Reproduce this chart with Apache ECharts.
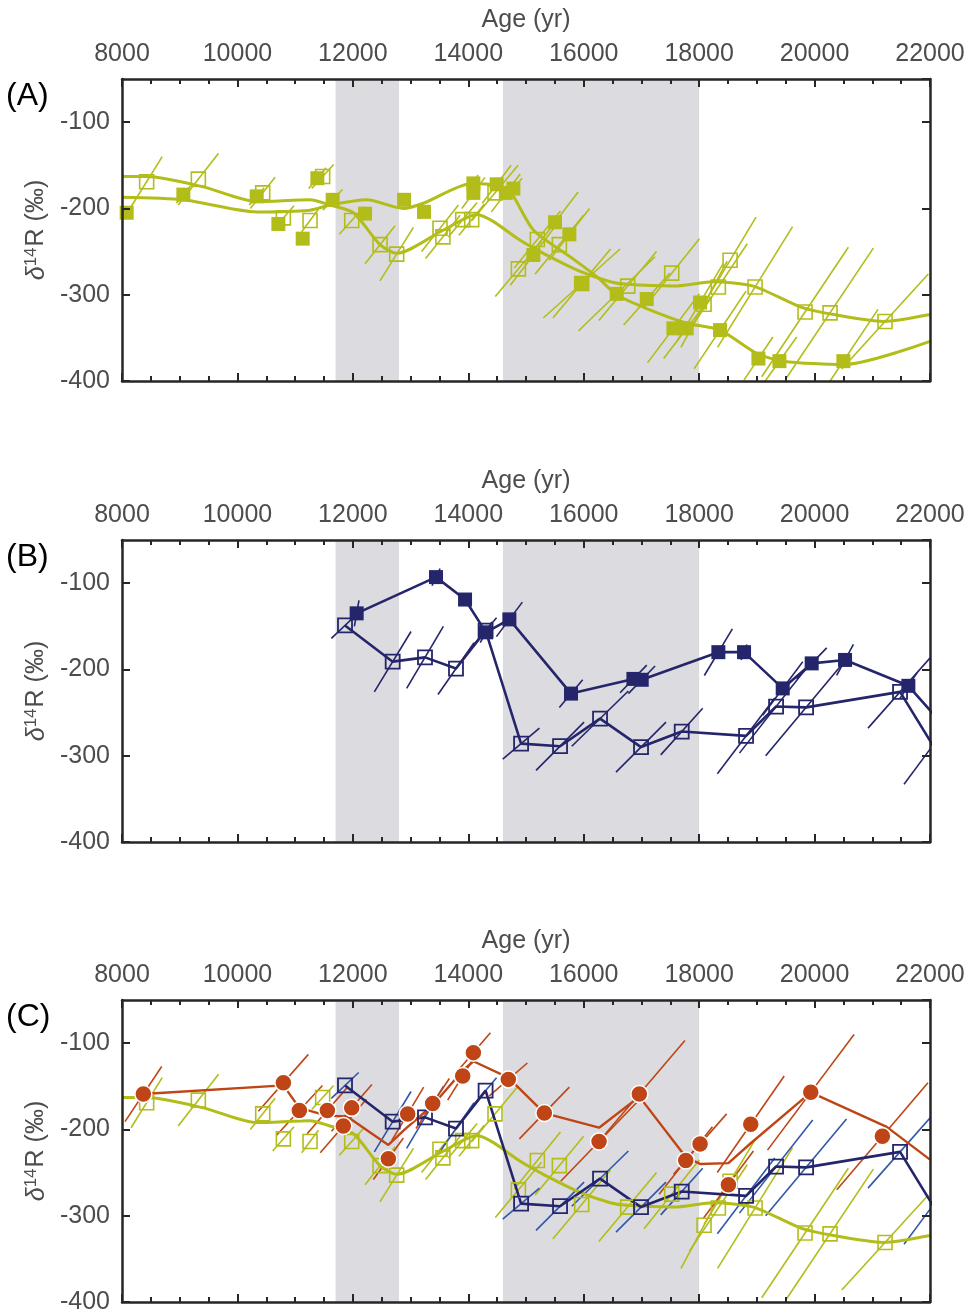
<!DOCTYPE html>
<html>
<head>
<meta charset="utf-8">
<script src="https://cdn.jsdelivr.net/npm/echarts@6/dist/echarts.min.js"></script>
<style>
  html, body { margin: 0; padding: 0; background: #fff; }
  #chart { width: 969px; height: 1315px; }
</style>
</head>
<body>
<div id="chart"></div>
<script>
// Shaded age intervals (yr)
const shadedIntervals = [[11700, 12800], [14600, 18000]];

// Point records: [age (yr), δ14R (‰), age half-error (yr), δ14R half-error along the error line (‰)]
const greenFilled = [
  [8081, -205, 60, 5], [9063, -184, 120, 10], [10334, -186, 130, 10], [10709, -218, 80, 6],
  [11131, -235, 50, 5], [11385, -165, 150, 12], [11650, -190, 170, 12], [12211, -206, 60, 5],
  [12887, -190, 60, 5], [13233, -204, 80, 8], [14088, -171, 80, 10], [14088, -182, 200, 18],
  [14492, -172, 250, 22], [14650, -182, 250, 22], [14781, -177, 150, 12], [15128, -254, 400, 35],
  [15503, -216, 400, 35], [15751, -230, 350, 30], [15965, -287, 665, 40], [16572, -299, 665, 43],
  [17092, -305, 400, 30], [17554, -339, 450, 40], [17785, -339, 400, 35], [18016, -309, 400, 45],
  [18362, -341, 450, 45], [19027, -374, 250, 25], [19391, -377, 300, 28], [20499, -377, 600, 60]
];
const greenOpen = [
  [8427, -169, 270, 29], [9323, -166, 350, 30], [10438, -182, 215, 18], [10796, -211, 185, 14],
  [11258, -214, 145, 13], [11477, -163, 190, 14], [11980, -214, 215, 16], [12471, -242, 260, 22],
  [12759, -253, 290, 31], [13510, -223, 320, 27], [13560, -233, 300, 25], [13903, -213, 250, 20],
  [14059, -213, 220, 18], [14463, -182, 400, 32], [14868, -270, 400, 32], [15197, -236, 400, 33],
  [15578, -242, 420, 34], [15965, -287, 500, 40], [16762, -290, 500, 40], [17525, -275, 480, 40],
  [18085, -311, 400, 50], [18333, -291, 500, 50], [18536, -260, 450, 50], [18969, -291, 650, 70],
  [19835, -320, 750, 75], [20268, -321, 750, 75], [21221, -331, 750, 55]
];
// Smoothed records: [age (yr), δ14R (‰)]
const greenFilledCurve = [
  [8000, -187], [9063, -190], [10334, -204], [11258, -202], [11604, -196], [12240, -190],
  [12875, -200], [13221, -194], [14059, -171], [14492, -173], [14723, -180], [15128, -225],
  [15763, -256], [16225, -279], [16572, -300], [17092, -316], [17785, -333], [18362, -341],
  [18998, -368], [19460, -377], [20499, -381], [22000, -354]
];
const greenOpenCurve = [
  [8000, -163], [8430, -163], [9410, -175], [10330, -192], [11260, -190], [11600, -196],
  [12010, -205], [12470, -242], [12760, -252], [13570, -225], [14150, -207], [14430, -215],
  [14900, -237], [15300, -252], [15940, -273], [16460, -285], [16750, -288], [17550, -290],
  [18250, -285], [18940, -290], [19750, -314], [20330, -323], [21190, -331], [22000, -323]
];
const navyFilled = [
  [12066, -135, 40, 15], [13441, -93, 70, 10], [13944, -119, 30, 5], [14307, -157, 100, 12],
  [14712, -142, 225, 20], [15780, -228, 202, 16], [16861, -211, 231, 16], [17005, -212, 231, 16],
  [18333, -180, 243, 27], [18778, -180, 50, 9], [19448, -222, 347, 31], [19950, -193, 260, 18],
  [20528, -189, 145, 18], [21625, -219, 150, 15], [22300, -270, 150, 15]
];
const navyOpen = [
  [11864, -149, 237, 15], [12690, -191, 318, 35], [13250, -186, 318, 36], [13787, -199, 312, 30],
  [14300, -155, 190, 15], [14915, -286, 318, 18], [15590, -289, 416, 28], [16283, -257, 490, 32],
  [16993, -290, 433, 29], [17698, -272, 364, 27], [18813, -277, 497, 44], [19333, -243, 635, 54],
  [19853, -244, 700, 56], [21481, -226, 555, 42], [22050, -288, 500, 45]
];
const redPoints = [
  [8370, -159, 318, 32], [10796, -146, 433, 33], [11073, -178, 400, 29], [11558, -178, 350, 27],
  [11835, -196, 400, 31], [11980, -175, 350, 27], [12615, -234, 260, 24], [12950, -182, 277, 31],
  [13383, -170, 289, 29], [13903, -138, 260, 28], [14088, -111, 295, 23], [14694, -142, 330, 19],
  [15318, -181, 433, 30], [16266, -214, 664, 46], [16964, -159, 790, 62], [17768, -236, 462, 39],
  [18016, -217, 460, 35], [18507, -264, 433, 39], [18894, -194, 580, 56], [19934, -157, 750, 67],
  [21175, -208, 790, 62]
];
const redCurve = [
  [8370, -159], [10796, -149], [11073, -175], [11546, -184], [11900, -185], [12615, -218],
  [12900, -200], [13383, -172], [13903, -132], [14088, -121], [14694, -140], [15318, -181],
  [16266, -198], [16964, -162], [17768, -232], [18016, -240], [18507, -239], [18894, -216],
  [19934, -157], [21250, -197], [22000, -235]
];
const panelLabels = ['(A)', '(B)', '(C)'];
const ageRange = [8000, 22000];
const valueRange = [-400, -50];

const FONT = '"Liberation Sans", Arial, Helvetica, sans-serif';
const AXIS = '#262626';
const TEXT = '#4d4d4d';
const GREEN = '#b2bd1a';
const NAVY = '#24256a';
const BLUE = '#3157a8';
const RED = '#bf4516';
const SHADE = '#dcdbdf';

const gridTops = [79, 540, 1000];
const grids = gridTops.map(t => ({ left: 122, top: t, width: 808, height: 302 }));

const xAxes = [];
const yAxes = [];
gridTops.forEach((t, gi) => {
  const xCommon = {
    gridIndex: gi, type: 'value', min: ageRange[0], max: ageRange[1], interval: 2000,
    splitLine: { show: false },
    axisLine: { show: true, onZero: false, lineStyle: { color: AXIS, width: 2.5 } },
    axisTick: { show: true, inside: true, length: 8, lineStyle: { color: AXIS, width: 2 } },
    minorTick: { show: true, splitNumber: 4, length: 5, lineStyle: { color: AXIS, width: 2 } },
    z: 10
  };
  xAxes.push(Object.assign({}, xCommon, {
    position: 'top', name: 'Age (yr)', nameLocation: 'middle', nameGap: 46,
    nameTextStyle: { fontSize: 25, color: TEXT, fontFamily: FONT },
    axisLabel: { show: true, margin: 12, fontSize: 25, color: TEXT, fontFamily: FONT,
      formatter: v => String(v) }
  }));
  xAxes.push(Object.assign({}, xCommon, { position: 'bottom', axisLabel: { show: false } }));

  const yCommon = {
    gridIndex: gi, type: 'value', min: valueRange[0], max: valueRange[1], interval: 100,
    splitLine: { show: false },
    axisLine: { show: true, onZero: false, lineStyle: { color: AXIS, width: 2.5 } },
    axisTick: { show: true, inside: true, length: 8, lineStyle: { color: AXIS, width: 2 } },
    z: 10
  };
  yAxes.push(Object.assign({}, yCommon, {
    position: 'left',
    name: '{d|δ}{s|14}{r|R (‰)}', nameLocation: 'middle', nameRotate: 90, nameGap: 66,
    nameTextStyle: {
      color: TEXT, fontFamily: FONT, fontSize: 25,
      rich: {
        d: { fontSize: 25, fontStyle: 'italic', color: TEXT, fontFamily: FONT },
        s: { fontSize: 17, color: TEXT, fontFamily: FONT, verticalAlign: 'top', padding: [0, 1, 10, 0] },
        r: { fontSize: 25, color: TEXT, fontFamily: FONT }
      }
    },
    axisLabel: {
      show: true, margin: 12, fontSize: 25, color: TEXT, fontFamily: FONT, showMaxLabel: false,
      formatter: v => (v > -100 ? '' : String(v))
    }
  }));
  yAxes.push(Object.assign({}, yCommon, { position: 'right', axisLabel: { show: false } }));
});

function clipRect(cs) {
  return { type: 'rect', shape: { x: cs.x, y: cs.y, width: cs.width, height: cs.height } };
}

function shadeSeries(gi) {
  return {
    type: 'custom', xAxisIndex: 2 * gi, yAxisIndex: 2 * gi, z: 1, silent: true,
    data: shadedIntervals, encode: { x: [0, 1] },
    renderItem(params, api) {
      const cs = params.coordSys;
      const x1 = api.coord([api.value(0), valueRange[0]])[0];
      const x2 = api.coord([api.value(1), valueRange[0]])[0];
      return { type: 'rect', shape: { x: x1, y: cs.y, width: x2 - x1, height: cs.height }, style: { fill: SHADE } };
    }
  };
}

function errorSeries(gi, rows, color, width) {
  return {
    type: 'custom', xAxisIndex: 2 * gi, yAxisIndex: 2 * gi, z: 2, silent: true,
    data: rows, encode: { x: 0, y: 1 },
    renderItem(params, api) {
      const x = api.value(0), y = api.value(1), ex = api.value(2), ey = api.value(3);
      const p1 = api.coord([x - ex, y - ey]);
      const p2 = api.coord([x + ex, y + ey]);
      return {
        type: 'line',
        shape: { x1: p1[0], y1: p1[1], x2: p2[0], y2: p2[1] },
        style: { stroke: color, lineWidth: width },
        clipPath: clipRect(params.coordSys)
      };
    }
  };
}

function lineSeries(gi, pts, color, width, smooth) {
  return {
    type: 'line', xAxisIndex: 2 * gi, yAxisIndex: 2 * gi, z: 3, silent: true,
    data: pts.map(r => [r[0], r[1]]), showSymbol: false, symbol: 'none', clip: true,
    smooth: smooth, lineStyle: { color: color, width: width }
  };
}

function markerSeries(gi, rows, symbol, size, fill, border, borderWidth) {
  return {
    type: 'scatter', xAxisIndex: 2 * gi, yAxisIndex: 2 * gi, z: 4, silent: true, clip: true,
    data: rows.map(r => [r[0], r[1]]), symbol: symbol, symbolSize: size,
    itemStyle: { color: fill, borderColor: border, borderWidth: borderWidth, opacity: 1 }
  };
}

const series = [
  // (A) two green records with their smoothed curves
  shadeSeries(0),
  errorSeries(0, greenOpen, GREEN, 1.6),
  errorSeries(0, greenFilled, GREEN, 1.6),
  lineSeries(0, greenOpenCurve, GREEN, 3, 0.25),
  lineSeries(0, greenFilledCurve, GREEN, 3, 0.25),
  markerSeries(0, greenOpen, 'rect', 14, 'rgba(0,0,0,0)', GREEN, 1.6),
  markerSeries(0, greenFilled, 'rect', 14, GREEN, GREEN, 0),

  // (B) navy records joined point to point
  shadeSeries(1),
  errorSeries(1, navyOpen, NAVY, 1.6),
  errorSeries(1, navyFilled, NAVY, 1.6),
  lineSeries(1, navyOpen, NAVY, 2.6, false),
  lineSeries(1, navyFilled, NAVY, 2.6, false),
  markerSeries(1, navyOpen, 'rect', 14, 'rgba(0,0,0,0)', NAVY, 1.8),
  markerSeries(1, navyFilled, 'rect', 14, NAVY, NAVY, 0),

  // (C) comparison of the three records
  shadeSeries(2),
  errorSeries(2, greenOpen, GREEN, 1.6),
  lineSeries(2, greenOpenCurve, GREEN, 3, 0.25),
  markerSeries(2, greenOpen, 'rect', 14, 'rgba(0,0,0,0)', GREEN, 1.6),
  errorSeries(2, navyOpen, BLUE, 1.6),
  lineSeries(2, navyOpen, NAVY, 2.6, false),
  markerSeries(2, navyOpen, 'rect', 14, 'rgba(0,0,0,0)', NAVY, 1.8),
  errorSeries(2, redPoints, RED, 1.6),
  lineSeries(2, redCurve, RED, 2.4, false),
  markerSeries(2, redPoints, 'circle', 17, RED, '#ffffff', 1.5)
];

const graphic = panelLabels.map((txt, i) => ({
  type: 'text', left: 6, top: gridTops[i] + 1, z: 20,
  style: { text: txt, fontSize: 32, fill: '#000', fontFamily: FONT }
}));

const chart = echarts.init(document.getElementById('chart'), null, { renderer: 'canvas' });
chart.setOption({
  backgroundColor: '#ffffff',
  animation: false,
  grid: grids,
  xAxis: xAxes,
  yAxis: yAxes,
  graphic: graphic,
  series: series
});
</script>
</body>
</html>
